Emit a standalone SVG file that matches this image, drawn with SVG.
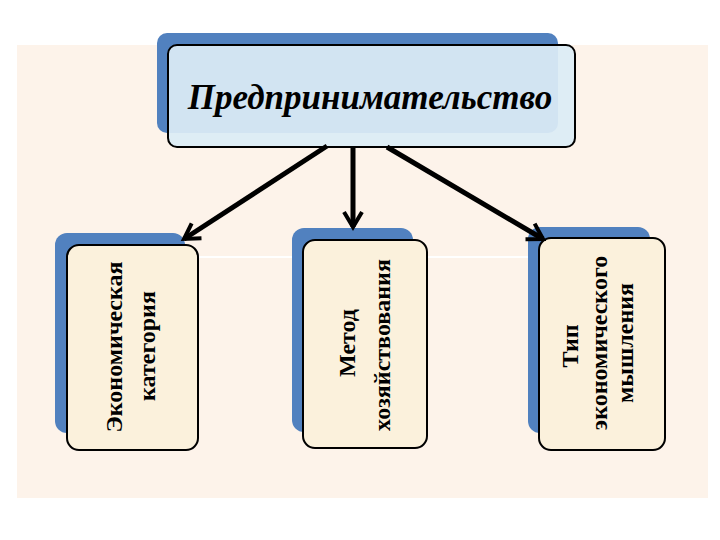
<svg xmlns="http://www.w3.org/2000/svg" width="720" height="540" viewBox="0 0 720 540">
<defs>
<style>
.shadow{fill:#5181bf}
.card{fill:#fbf1dc;stroke:#000;stroke-width:2}
.lbl{font-family:"Liberation Serif","Times New Roman",serif;font-weight:bold;font-size:24px;fill:#000;text-anchor:middle}
.conn{stroke:#000;stroke-width:5;fill:none}
</style>
<marker id="arr" markerUnits="userSpaceOnUse" viewBox="-20 -12 24 24" markerWidth="24" markerHeight="24" refX="0" refY="0" orient="auto">
<path d="M-15,-9 L0,0 L-15,9" fill="none" stroke="#000" stroke-width="4" stroke-linejoin="miter"/>
</marker>
</defs>
<rect width="720" height="540" fill="#ffffff"/>
<rect x="17" y="45" width="691" height="453" fill="#fdf3ea"/>
<line x1="198" y1="257" x2="540" y2="257" stroke="#ffffff" stroke-width="2"/>

<g id="top">
<rect x="157" y="33" width="401" height="100" rx="10" class="shadow"/>
<rect x="168" y="45" width="407" height="102" rx="9" fill="#dcecf5" fill-opacity="0.93" stroke="#000" stroke-width="2"/>
<text x="370" y="109" font-family="'Liberation Serif','Times New Roman',serif" font-weight="bold" font-style="italic" font-size="35" text-anchor="middle" fill="#000">Предпринимательство</text>
</g>

<g id="node-left">
<rect x="55" y="233" width="130" height="200" rx="12" class="shadow"/>
<rect x="67" y="245" width="131" height="205" rx="12" class="card"/>
<text class="lbl" transform="translate(122,347) rotate(-90)">Экономическая</text>
<text class="lbl" transform="translate(155,346) rotate(-90)">категория</text>
</g>

<g id="node-middle">
<rect x="292" y="228" width="121" height="204" rx="12" class="shadow"/>
<rect x="303" y="240" width="124" height="208" rx="12" class="card"/>
<text class="lbl" transform="translate(355,343) rotate(-90)">Метод</text>
<text class="lbl" transform="translate(390,345) rotate(-90)">хозяйствования</text>
</g>

<g id="node-right">
<rect x="528" y="227" width="122" height="206" rx="12" class="shadow"/>
<rect x="539" y="238" width="126" height="212" rx="12" class="card"/>
<text class="lbl" transform="translate(578,346) rotate(-90)">Тип</text>
<text class="lbl" transform="translate(607,343) rotate(-90)">экономического</text>
<text class="lbl" transform="translate(633,343) rotate(-90)">мышления</text>
</g>

<g id="connectors">
<line x1="327" y1="146" x2="184" y2="239" class="conn" marker-end="url(#arr)"/>
<line x1="353" y1="146" x2="353" y2="227" class="conn" marker-end="url(#arr)"/>
<line x1="387" y1="147" x2="543" y2="239" class="conn" marker-end="url(#arr)"/>
</g>
</svg>
